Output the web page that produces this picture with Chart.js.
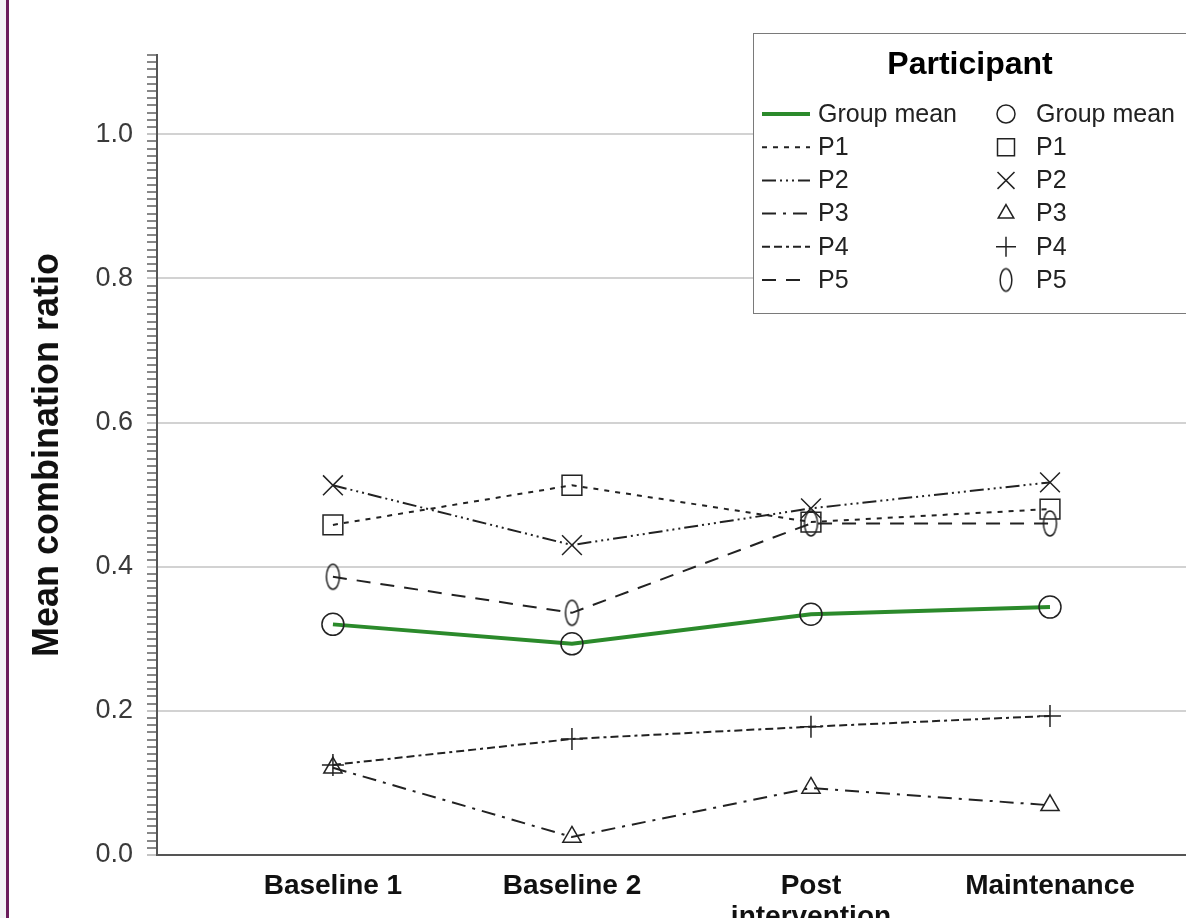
<!DOCTYPE html>
<html>

<head>
    <meta charset="utf-8">
    <title>Mean combination ratio by phase</title>
    <script src="https://cdn.jsdelivr.net/npm/chart.js"></script>
    <style>
        html,
        body {
            margin: 0;
            padding: 0;
            background: #fff;
            overflow: hidden;
        }

        #wrap {
            position: relative;
            width: 1186px;
            height: 918px;
        }

        canvas {
            position: absolute;
            left: 0;
            top: 0;
        }

        /* the page edge seen on the left of the screenshot */
        #strip {
            position: absolute;
            left: 0;
            top: 0;
            width: 6px;
            height: 918px;
            background: #f3f3f6;
        }

        #edge {
            position: absolute;
            left: 6px;
            top: 0;
            width: 3px;
            height: 918px;
            background: #6b1d5c;
        }
    </style>
</head>

<body>
    <div id="wrap">
        <canvas id="chart" width="1186" height="918"></canvas>
        <div id="strip"></div>
        <div id="edge"></div>
    </div>

    <script>
        // phases on the x axis
        const categories = ['Baseline 1', 'Baseline 2', ['Post', 'intervention'], 'Maintenance'];
        const seriesNames = ['Group mean', 'P1', 'P2', 'P3', 'P4', 'P5'];

        // values
        const groupMean = [0.320, 0.293, 0.334, 0.344];
        const p1 = [0.458, 0.513, 0.462, 0.480];
        const p2 = [0.513, 0.430, 0.481, 0.517];
        const p3 = [0.121, 0.025, 0.093, 0.069];
        const p4 = [0.125, 0.161, 0.178, 0.193];
        const p5 = [0.386, 0.336, 0.460, 0.460];

        const yMajorTicks = [0, 0.2, 0.4, 0.6, 0.8, 1.0];

        const FONT = '"Liberation Sans", Arial, sans-serif';
        const INK = '#222';

        // tall thin ellipse used as the P5 marker
        function ellipseMarker(scale) {
            const c = document.createElement('canvas');
            const rx = 6.5 * scale, ry = 12.5 * scale;
            c.width = Math.ceil(rx * 2 + 4);
            c.height = Math.ceil(ry * 2 + 4);
            const g = c.getContext('2d');
            g.strokeStyle = INK;
            g.lineWidth = 1.5;
            g.beginPath();
            g.ellipse(c.width / 2, c.height / 2, rx, ry, 0, 0, Math.PI * 2);
            g.stroke();
            return c;
        }

        const toPoints = vals => vals.map((v, i) => ({ x: i + 1, y: v }));

        function series(label, vals, style) {
            return Object.assign({
                label: label,
                data: toPoints(vals),
                borderColor: INK,
                borderWidth: 2,
                pointBorderColor: INK,
                pointBackgroundColor: 'rgba(0,0,0,0)',
                pointBorderWidth: 1.5,
                pointHoverRadius: 0,
                tension: 0,
                fill: false
            }, style);
        }

        const datasets = [
            series(seriesNames[0], groupMean, { borderColor: '#2b8a2b', borderWidth: 4, pointStyle: 'circle', pointRadius: 11, legendRadius: 9 }),
            series(seriesNames[1], p1, { borderDash: [5, 6], pointStyle: 'rect', pointRadius: 14, legendRadius: 12 }),
            series(seriesNames[2], p2, { borderDash: [14, 4, 2, 4, 2, 4, 2, 4], pointStyle: 'crossRot', pointRadius: 14, legendRadius: 12 }),
            series(seriesNames[3], p3, { borderDash: [14, 7, 3, 7], pointStyle: 'triangle', pointRadius: 10.5, legendRadius: 9 }),
            series(seriesNames[4], p4, { borderDash: [8, 4, 8, 4, 3, 4], pointStyle: 'cross', pointRadius: 11, legendRadius: 10 }),
            series(seriesNames[5], p5, { borderDash: [14, 10], pointStyle: ellipseMarker(1), pointRadius: 12, legendStyle: ellipseMarker(0.9) })
        ];

        const isMajor = v => Math.abs(v * 5 - Math.round(v * 5)) < 1e-6;

        // two column "Participant" legend (lines left, markers right)
        const participantLegend = {
            id: 'participantLegend',
            afterDraw(chart) {
                const ctx = chart.ctx;
                ctx.save();
                ctx.fillStyle = '#fff';
                ctx.strokeStyle = '#7a7a7a';
                ctx.lineWidth = 1;
                ctx.fillRect(753.5, 33.5, 520, 280);
                ctx.strokeRect(753.5, 33.5, 520, 280);

                ctx.fillStyle = '#000';
                ctx.font = 'bold 32px ' + FONT;
                ctx.textAlign = 'center';
                ctx.textBaseline = 'alphabetic';
                ctx.fillText('Participant', 970, 74);

                ctx.font = '25px ' + FONT;
                ctx.textAlign = 'left';
                ctx.textBaseline = 'middle';
                chart.data.datasets.forEach((ds, i) => {
                    const y = 114 + i * 33.2;
                    ctx.strokeStyle = ds.borderColor;
                    ctx.lineWidth = ds.borderWidth;
                    ctx.setLineDash(ds.borderDash || []);
                    ctx.beginPath();
                    ctx.moveTo(762, y);
                    ctx.lineTo(810, y);
                    ctx.stroke();
                    ctx.setLineDash([]);
                    ctx.fillStyle = INK;
                    ctx.fillText(ds.label, 818, y + 1);

                    ctx.strokeStyle = INK;
                    ctx.lineWidth = 1.5;
                    ctx.fillStyle = 'rgba(0,0,0,0)';
                    Chart.helpers.drawPoint(ctx, {
                        pointStyle: ds.legendStyle || ds.pointStyle,
                        radius: ds.legendRadius || 10,
                        borderWidth: 1.5,
                        rotation: 0
                    }, 1006, y);
                    ctx.fillStyle = INK;
                    ctx.fillText(ds.label, 1036, y + 1);
                });
                ctx.restore();
            }
        };

        new Chart(document.getElementById('chart'), {
            type: 'line',
            data: { datasets: datasets },
            plugins: [participantLegend],
            options: {
                responsive: false,
                animation: false,
                events: [],
                layout: { autoPadding: false, padding: { top: 55, right: 0, left: 0, bottom: 0 } },
                plugins: {
                    legend: { display: false },
                    tooltip: { enabled: false }
                },
                scales: {
                    x: {
                        type: 'linear',
                        min: 0.264,
                        max: 4.569,
                        afterFit(scale) { scale.height = 63; },
                        afterBuildTicks(scale) {
                            scale.ticks = categories.map((c, i) => ({ value: i + 1 }));
                        },
                        grid: { drawOnChartArea: false, drawTicks: false, color: 'rgba(0,0,0,0)' },
                        border: { display: true, color: '#555', width: 2 },
                        ticks: {
                            autoSkip: false,
                            maxRotation: 0,
                            padding: 16,
                            color: '#111',
                            font: { family: FONT, size: 28, weight: 'bold', lineHeight: 1.1 },
                            callback: (v, i) => categories[i]
                        }
                    },
                    y: {
                        min: 0,
                        max: 1.11,
                        afterFit(scale) { scale.width = 157; },
                        title: {
                            display: true,
                            text: 'Mean combination ratio',
                            color: '#111',
                            font: { family: FONT, size: 36, weight: 'bold' },
                            padding: { top: 26, bottom: 0 }
                        },
                        grid: {
                            tickLength: 10,
                            color: c => isMajor(c.tick.value) ? '#d2d2d2' : 'rgba(0,0,0,0)',
                            lineWidth: c => isMajor(c.tick.value) ? 2 : 0,
                            tickColor: c => isMajor(c.tick.value) ? '#c4c4c4' : '#111',
                            tickWidth: c => isMajor(c.tick.value) ? 2 : 1
                        },
                        border: { display: true, color: '#555', width: 2 },
                        ticks: {
                            stepSize: 0.01,
                            autoSkip: false,
                            padding: 14,
                            color: '#3a3a3a',
                            font: { family: FONT, size: 27 },
                            callback: v => (isMajor(v) && yMajorTicks.some(t => Math.abs(t - v) < 1e-6)) ? v.toFixed(1) : ''
                        }
                    }
                }
            }
        });
    </script>
</body>

</html>
